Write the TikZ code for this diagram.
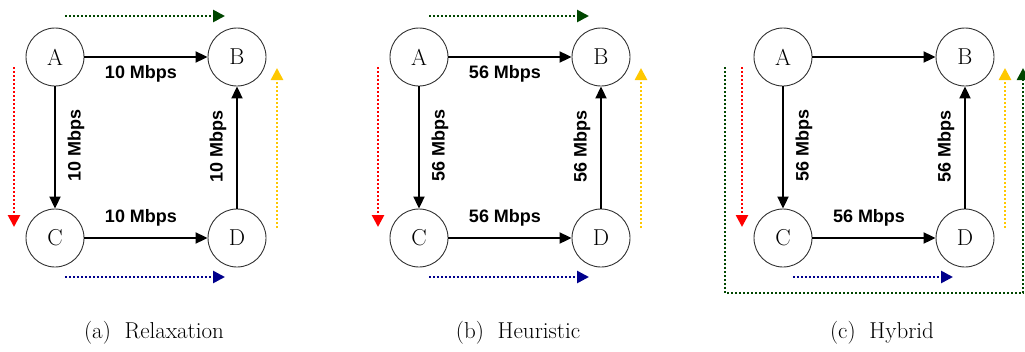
\documentclass[tikz,border=0pt]{standalone}
\usepackage{fontspec}
\newfontfamily\labfont{Liberation Sans}
\usetikzlibrary{arrows.meta}
\definecolor{dgreen}{RGB}{0,70,0}
\definecolor{dred}{RGB}{255,0,0}
\definecolor{gold}{RGB}{255,200,0}
\definecolor{navy}{RGB}{0,0,140}
\tikzset{
 host/.style={circle, draw=black!80, line width=0.9pt, minimum size=58pt, inner sep=0pt, font=\fontsize{23}{23}\selectfont, fill=white},
 link/.style={line width=2pt, -{Triangle[length=12pt,width=11pt]}},
 flow/.style={line width=2.6pt, dash pattern=on 2pt off 2pt, -{Triangle[length=12pt,width=12pt]}},
 bw/.style={font=\labfont\bfseries\fontsize{18}{18}\selectfont, inner sep=0pt},
 capt/.style={font=\fontsize{23}{23}\selectfont, inner sep=0pt}
}
\begin{document}
\begin{tikzpicture}[x=1pt,y=-1pt]
\useasboundingbox (0,0) rectangle (1025,351);
\foreach \p/\dx/\bwv/\cp/\ct in {a/0/10/a/Relaxation, b/364/56/b/Heuristic, c/728/56/c/Hybrid}{
  \begin{scope}[xshift=\dx pt]
  \node[host] (\p A) at (55,57) {A};
  \node[host] (\p B) at (237,57) {B};
  \node[host] (\p C) at (55,238) {C};
  \node[host] (\p D) at (237,238) {D};
  \draw[link] (\p A) -- (\p B);
  \draw[link] (\p A) -- (\p C);
  \draw[link] (\p C) -- (\p D);
  \draw[link] (\p D) -- (\p B);
  \node[bw] (\p lcd) at (141,218) {\bwv{} Mbps};
  \node[bw, rotate=90] (\p lac) at (76,145) {\bwv{} Mbps};
  \node[bw, rotate=90] (\p ldb) at (218,146) {\bwv{} Mbps};
  \coordinate (\p r1) at (14,67);  \coordinate (\p r2) at (14,227);
  \coordinate (\p y1) at (277,228); \coordinate (\p y2) at (277,68);
  \coordinate (\p n1) at (65,277);  \coordinate (\p n2) at (225,277);
  \draw[flow, dred] (\p r1) -- (\p r2);
  \draw[flow, gold] (\p y1) -- (\p y2);
  \draw[flow, navy] (\p n1) -- (\p n2);
  \node[capt] (\p cap) at (154,333) {(\cp)\hspace{0.6em}\ct};
  \end{scope}
}
\foreach \p/\dx/\bwv in {a/0/10, b/364/56}{
  \begin{scope}[xshift=\dx pt]
  \node[bw] (\p lab) at (141,74) {\bwv{} Mbps};
  \coordinate (\p g1) at (65,16); \coordinate (\p g2) at (225,16);
  \draw[flow, dgreen] (\p g1) -- (\p g2);
  \end{scope}
}
\coordinate (cg1) at (725,67);
\coordinate (cg2) at (1023,293);
\coordinate (cg3) at (1023,68);
\draw[flow, dgreen] (cg1) |- (cg2) -- (cg3);
\end{tikzpicture}
\end{document}
